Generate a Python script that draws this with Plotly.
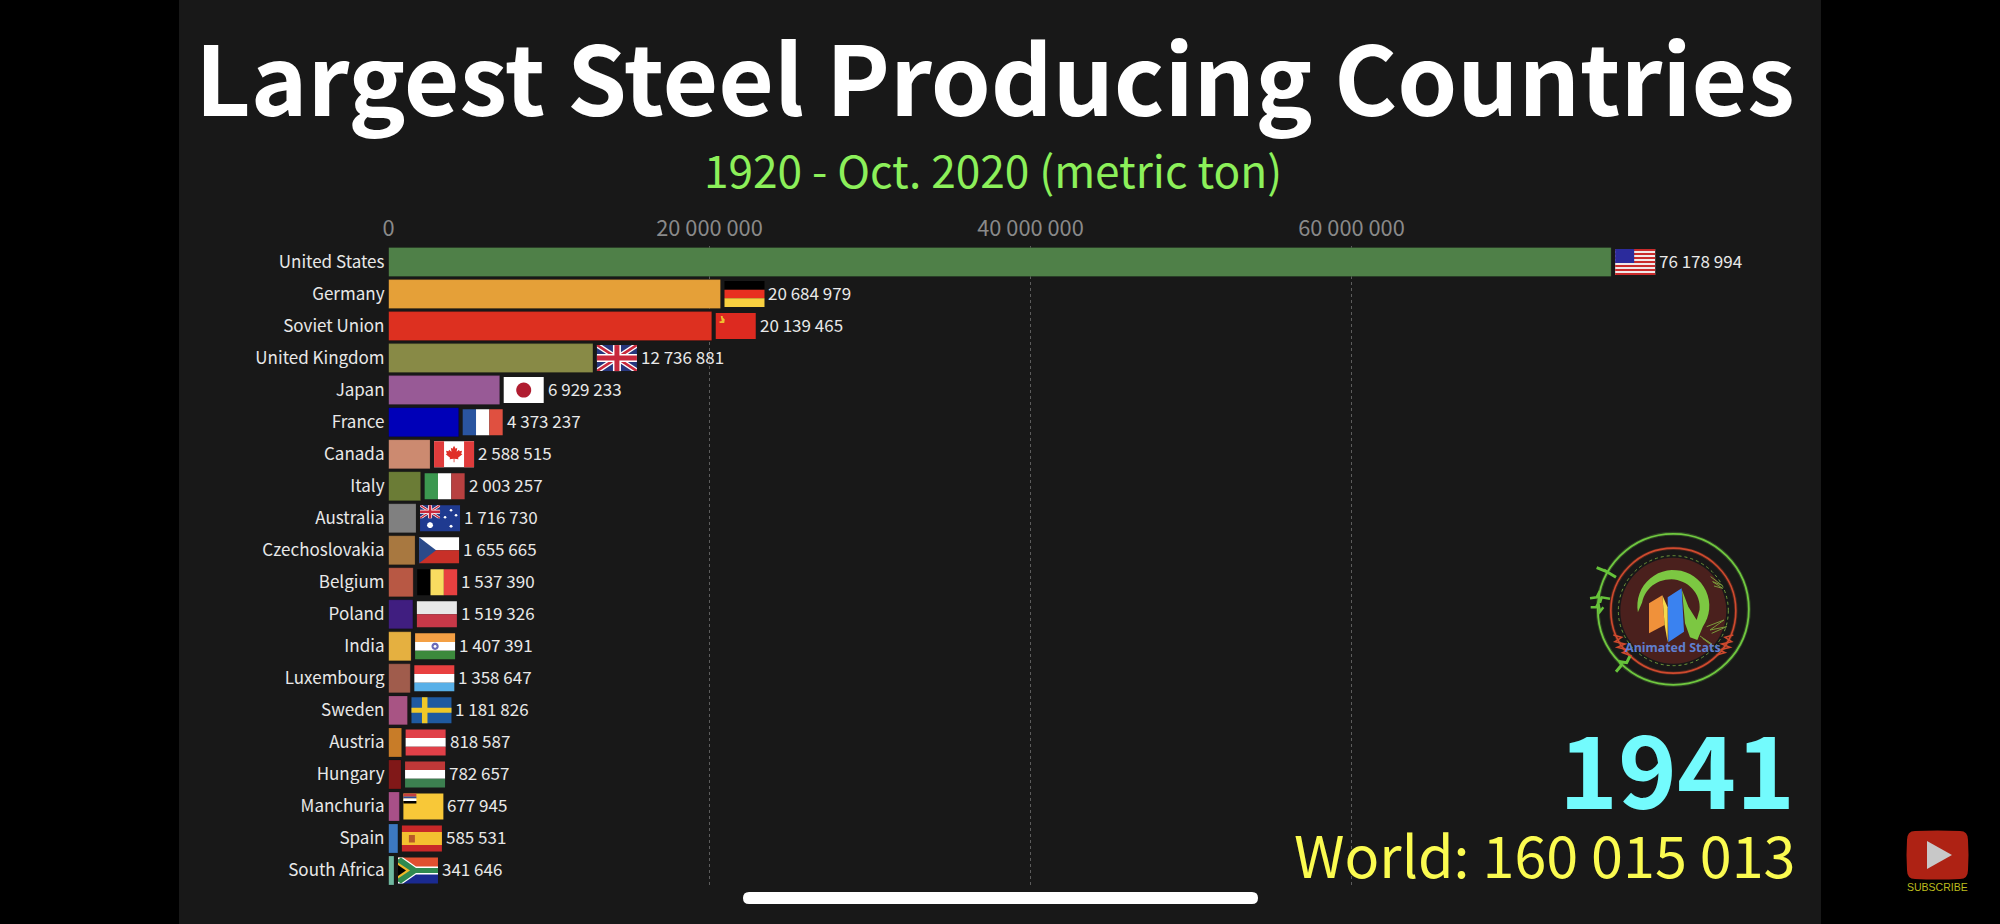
import math
import plotly.graph_objects as go

W, H = 2000, 924
FONT = "Noto Sans CJK JP"

countries = ["United States", "Germany", "Soviet Union", "United Kingdom", "Japan", "France", "Canada",
             "Italy", "Australia", "Czechoslovakia", "Belgium", "Poland", "India", "Luxembourg",
             "Sweden", "Austria", "Hungary", "Manchuria", "Spain", "South Africa"]
values = [76178994, 20684979, 20139465, 12736881, 6929233, 4373237, 2588515, 2003257, 1716730, 1655665,
          1537390, 1519326, 1407391, 1358647, 1181826, 818587, 782657, 677945, 585531, 341646]
bar_colors = ["#4f8048", "#e5a038", "#dd3020", "#888a46", "#985a96", "#0000b8", "#cc8a70", "#6b7c36",
              "#808080", "#a87840", "#b85844", "#401e80", "#e5b040", "#a05c4c", "#a85484", "#c87c28",
              "#801818", "#a85088", "#3c78c0", "#70b8a0"]
tick_values = [0, 20000000, 40000000, 60000000]
title_text = "Largest Steel Producing Countries"
subtitle_text = "1920 - Oct. 2020 (metric ton)"
year_text = "1941"
world_text = "World: 160 015 013"


def poly(pts):
    return "M" + " L".join(f"{x:.2f},{y:.2f}" for x, y in pts) + " Z"


def rect(x0, y0, x1, y1):
    return [(x0, y0), (x1, y0), (x1, y1), (x0, y1)]


def circle(cx, cy, r, n=28):
    return [(cx + r * math.cos(2 * math.pi * i / n), cy + r * math.sin(2 * math.pi * i / n)) for i in range(n)]


def hbands(cols):
    n = len(cols)
    return [(c, rect(0, 26 * i / n, 40, 26 * (i + 1) / n)) for i, c in enumerate(cols)]


def vbands(cols):
    n = len(cols)
    return [(c, rect(40 * i / n, 0, 40 * (i + 1) / n, 26)) for i, c in enumerate(cols)]


def union_jack(w, h):
    sx, sy = w / 40, h / 26
    def s(pts):
        return [(x * sx, y * sy) for x, y in pts]
    return [
        ("#27367c", s(rect(0, 0, 40, 26))),
        ("#ffffff", s([(0, 0), (5, 0), (40, 23), (40, 26), (35, 26), (0, 3)])),
        ("#ffffff", s([(40, 0), (35, 0), (0, 23), (0, 26), (5, 26), (40, 3)])),
        ("#c8283c", s([(0, 0), (2.5, 0), (40, 24.5), (40, 26), (37.5, 26), (0, 1.5)])),
        ("#c8283c", s([(40, 0), (37.5, 0), (0, 24.5), (0, 26), (2.5, 26), (40, 1.5)])),
        ("#ffffff", s(rect(16, 0, 24, 26))),
        ("#ffffff", s(rect(0, 9, 40, 17))),
        ("#c8283c", s(rect(17.5, 0, 22.5, 26))),
        ("#c8283c", s(rect(0, 10.5, 40, 15.5))),
    ]


us = [("#f0e8e8", rect(0, 0, 40, 26))] + [("#c92a2a", rect(0, 26 * i / 13, 40, 26 * (i + 1) / 13)) for i in range(0, 13, 2)]
us.append(("#2b2b9c", rect(0, 0, 19, 14)))

maple = [(20, 4.5), (21.6, 7.5), (23.2, 6.7), (22.6, 10.5), (25, 8.5), (25.5, 10), (28, 9.7), (27.2, 12.5), (28.3, 13.2),
         (24, 16.7), (24.4, 18.2), (20.4, 17.7), (20.4, 21), (19.6, 21), (19.6, 17.7), (15.6, 18.2), (16, 16.7),
         (11.7, 13.2), (12.8, 12.5), (12, 9.7), (14.5, 10), (15, 8.5), (17.4, 10.5), (16.8, 6.7), (18.4, 7.5)]

flags = {
    "United States": us,
    "Germany": hbands(["#000000", "#e83020", "#f8d040"]),
    "Soviet Union": [("#dd2a20", rect(0, 0, 40, 26)),
                     ("#f0c030", [(5, 3), (7, 3), (7, 4.5), (9, 6.5), (8.5, 10), (4, 10), (3.5, 8.5), (6, 8)])],
    "United Kingdom": union_jack(40, 26),
    "Japan": [("#ffffff", rect(0, 0, 40, 26)), ("#b01c30", circle(20, 13, 7.5))],
    "France": vbands(["#2a55a0", "#ffffff", "#e05040"]),
    "Canada": [("#ffffff", rect(0, 0, 40, 26)), ("#e03c3c", rect(0, 0, 10, 26)), ("#e03c3c", rect(30, 0, 40, 26)), ("#e03028", maple)],
    "Italy": vbands(["#3c9850", "#ffffff", "#b84040"]),
    "Australia": [("#1f3a90", rect(0, 0, 40, 26))] + union_jack(20, 13) + [
        ("#ffffff", circle(10, 20, 3, 10)), ("#ffffff", circle(31, 5, 1.3, 8)), ("#ffffff", circle(25, 12, 1.3, 8)),
        ("#ffffff", circle(36, 10, 1.3, 8)), ("#ffffff", circle(31, 21, 1.5, 8))],
    "Czechoslovakia": [("#ffffff", rect(0, 0, 40, 13)), ("#c83028", rect(0, 13, 40, 26)), ("#2a4a8a", [(0, 0), (17, 13), (0, 26)])],
    "Belgium": vbands(["#000000", "#f8dc60", "#e84040"]),
    "Poland": hbands(["#e8e8e8", "#c83848"]),
    "India": hbands(["#f4a044", "#ffffff", "#3c8a3c"]) + [("#6a6ab8", circle(20, 13, 3.6)), ("#ffffff", circle(20, 13, 1.4, 10))],
    "Luxembourg": hbands(["#e84040", "#ffffff", "#58b0e8"]),
    "Sweden": [("#1f5aa0", rect(0, 0, 40, 26)), ("#f0c828", rect(10.5, 0, 16, 26)), ("#f0c828", rect(0, 10.5, 40, 15.5))],
    "Austria": hbands(["#e04048", "#ffffff", "#e04048"]),
    "Hungary": hbands(["#c03838", "#ffffff", "#3c8050"]),
    "Manchuria": [("#f8c838", rect(0, 0, 40, 26)), ("#c84040", rect(0, 0, 13, 3)), ("#304a9a", rect(0, 3, 13, 5)),
                  ("#ffffff", rect(0, 5, 13, 7.5)), ("#000000", rect(0, 7.5, 13, 10))],
    "Spain": [("#c82828", rect(0, 0, 40, 26)), ("#f4c030", rect(0, 6.5, 40, 19.5)), ("#b85a28", rect(7, 9.5, 13, 17))],
    "South Africa": [("#e05030", rect(0, 0, 40, 13)), ("#1a2a90", rect(0, 13, 40, 26)),
                     ("#ffffff", [(0, 0), (5, 0), (18, 9), (40, 9), (40, 17), (18, 17), (5, 26), (0, 26)]),
                     ("#2f8a50", [(0, 2), (3, 0), (18, 10.5), (40, 10.5), (40, 15.5), (18, 15.5), (3, 26), (0, 24)]),
                     ("#f0b828", [(0, 5), (12, 13), (0, 21)]),
                     ("#000000", [(0, 7.5), (8, 13), (0, 18.5)])],
}

# pixel geometry of the frame
PX0, PX20 = 388.5, 709.5
X_MAX = 88000000
PLOT_TOP, PLOT_BOTTOM = 246, 887
dom_x = [PX0 / W, (PX0 + X_MAX / 20000000 * (PX20 - PX0)) / W]
dom_y = [1 - PLOT_BOTTOM / H, 1 - PLOT_TOP / H]

fig = go.Figure(go.Bar(
    x=values, y=countries, orientation="h",
    marker=dict(color=bar_colors, line=dict(color="rgba(0,0,0,0.18)", width=1)),
    width=0.905, hoverinfo="skip"))


def px(x):
    return x / W


def py(y):
    return 1 - y / H


def page_path(pts, close=True):
    return "M" + " L".join(f"{px(x):.5f},{py(y):.5f}" for x, y in pts) + (" Z" if close else "")


shapes = [dict(type="rect", xref="paper", yref="paper", x0=px(179), x1=px(1821), y0=0, y1=1,
               fillcolor="#181818", line_width=0, layer="below")]

# flags, anchored at the bar tips through the axis scales
FLAG_GAP = 4
for name, val in zip(countries, values):
    for color, pts in flags[name]:
        local = [(FLAG_GAP + x, 13 - y) for x, y in pts]
        shapes.append(dict(type="path", xref="x", yref="y", xsizemode="pixel", ysizemode="pixel",
                           xanchor=val, yanchor=name, path=poly(local), fillcolor=color,
                           line_width=0, layer="above"))

annotations = []
for name, val in zip(countries, values):
    annotations.append(dict(x=val, y=name, xref="x", yref="y", xanchor="left", yanchor="middle", xshift=46, yshift=2,
                            showarrow=False, text=f"{val:,}".replace(",", " "),
                            font=dict(family=FONT, size=17, color="#e8e8e8")))

# logo (decorative, fixed page position)
LX, LY = 1580, 520


def L(x, y):
    return (LX + x / 3, LY + y / 3)


def ring(cx, cy, r, color, width, dash=None):
    a, b = L(cx, cy)
    d = dict(color=color, width=width)
    if dash:
        d["dash"] = dash
    return dict(type="circle", xref="paper", yref="paper", x0=px(a - r), x1=px(a + r), y0=py(b + r), y1=py(b - r),
                line=d, layer="above")


def logo_fill(pts, color):
    return dict(type="path", xref="paper", yref="paper", path=page_path([L(*p) for p in pts]), fillcolor=color,
                line_width=0, layer="above")


def logo_line(pts, color, width=1.2):
    return dict(type="path", xref="paper", yref="paper", path=page_path([L(*p) for p in pts], close=False),
                line=dict(color=color, width=width), layer="above")


def arc(cx, cy, rx, ry, a0, a1, n=30):
    return [(cx + rx * math.cos(math.radians(a0 + (a1 - a0) * i / n)),
             cy - ry * math.sin(math.radians(a0 + (a1 - a0) * i / n))) for i in range(n + 1)]


disk = ring(280, 272, 53, "rgba(0,0,0,0)", 0)
disk["fillcolor"] = "#4a201d"
shapes += [disk,
           ring(280, 268, 75.5, "rgba(110,200,70,0.25)", 4),
           ring(280, 268, 75.5, "#70c83f", 1.8),
           ring(280, 272, 62.5, "rgba(220,70,40,0.25)", 3.5),
           ring(280, 272, 62.5, "#cf4a2e", 1.6),
           ring(280, 272, 55, "#6f9a3a", 1, "dot")]
arch = (arc(280, 258, 108, 108, 190, -35) + [(352, 360), (330, 352), (315, 310), (306, 210), (325, 260), (350, 300)]
        + arc(272, 262, 87, 84, -5, 170))
shapes.append(logo_fill(arch, "#7cc742"))
shapes.append(logo_fill([(207, 250), (247, 226), (254, 315), (207, 340)], "#f0913a"))
shapes.append(logo_fill([(247, 226), (263, 262), (263, 367), (254, 315)], "#f6d84a"))
shapes.append(logo_fill([(263, 232), (305, 205), (312, 335), (265, 367)], "#3a82f0"))
shapes.append(logo_line([(50, 143), (80, 155), (72, 150), (108, 172)], "#66c23a", 3))
shapes.append(logo_line([(30, 235), (50, 232), (55, 222), (60, 248), (65, 232), (90, 236)], "#66c23a", 2.5))
shapes.append(logo_line([(32, 262), (48, 262), (55, 250), (60, 275), (70, 262)], "#66c23a", 2.5))
shapes.append(logo_line([(108, 455), (125, 435), (120, 425), (140, 428), (150, 408)], "#66c23a", 3))
shapes.append(logo_line([(100, 345), (125, 352), (105, 365), (135, 372), (112, 382), (145, 390), (128, 398), (155, 408)], "#cf4a2e", 1.6))
shapes.append(logo_line([(460, 345), (435, 352), (455, 365), (425, 372), (450, 382), (418, 390), (435, 398), (410, 405)], "#cf4a2e", 1.6))
shapes.append(logo_line([(392, 170), (425, 195), (398, 185), (428, 205), (402, 198)], "#7a9a3a", 1))
shapes.append(logo_line([(380, 320), (432, 300), (390, 330), (440, 320), (395, 340)], "#7a9a3a", 1))
shapes.append(logo_line([(360, 348), (395, 372), (368, 355), (400, 380)], "#7a9a3a", 1))
annotations.append(dict(x=px(L(280, 382)[0]), y=py(L(280, 382)[1]), xref="paper", yref="paper", showarrow=False,
                        xanchor="center", yanchor="middle", text="<b>Animated Stats</b>",
                        font=dict(family="Noto Sans", size=12.5, color="#5f7fcf")))

# home indicator pill
x0, x1, y0, y1 = 743, 1258, 892, 904
r = 6
shapes.append(dict(type="path", xref="paper", yref="paper", line_width=0, fillcolor="#ffffff", layer="above",
                   path=(f"M{px(x0+r)},{py(y0)} L{px(x1-r)},{py(y0)} Q{px(x1)},{py(y0)} {px(x1)},{py(y0+r)} "
                         f"Q{px(x1)},{py(y1)} {px(x1-r)},{py(y1)} L{px(x0+r)},{py(y1)} "
                         f"Q{px(x0)},{py(y1)} {px(x0)},{py(y0+r)} Q{px(x0)},{py(y0)} {px(x0+r)},{py(y0)} Z")))

# subscribe button
bx0, bx1, by0, by1 = 1907, 1968, 831, 879
shapes.append(dict(type="path", xref="paper", yref="paper", line_width=0, fillcolor="#ae2214", layer="above",
                   path=(f"M{px(bx0+8)},{py(by0)} Q{px((bx0+bx1)/2)},{py(by0-1)} {px(bx1-8)},{py(by0)} "
                         f"Q{px(bx1)},{py(by0)} {px(bx1)},{py(by0+9)} Q{px(bx1+1)},{py((by0+by1)/2)} {px(bx1)},{py(by1-9)} "
                         f"Q{px(bx1)},{py(by1)} {px(bx1-8)},{py(by1)} Q{px((bx0+bx1)/2)},{py(by1+1)} {px(bx0+8)},{py(by1)} "
                         f"Q{px(bx0)},{py(by1)} {px(bx0)},{py(by1-9)} Q{px(bx0-1)},{py((by0+by1)/2)} {px(bx0)},{py(by0+9)} "
                         f"Q{px(bx0)},{py(by0)} {px(bx0+8)},{py(by0)} Z")))
shapes.append(dict(type="path", xref="paper", yref="paper", line_width=0, fillcolor="#c8c8c8", layer="above",
                   path=page_path([(1927, 841), (1952, 855), (1927, 869)])))


def page_text(x, y, text, size, color, anchor="center", bold=False, family=FONT):
    annotations.append(dict(x=px(x), y=py(y), xref="paper", yref="paper", showarrow=False, xanchor=anchor,
                            yanchor="middle", text=f"<b>{text}</b>" if bold else text,
                            font=dict(family=family, size=size, color=color)))


page_text(993, 168.5, subtitle_text, 44.2, "#8cf05a")
page_text(1797, 765, year_text, 100, "#73fbfd", anchor="right", bold=True)
page_text(1797, 853, world_text, 57.5, "#fbfb50", anchor="right")
page_text(1937.5, 887, "SUBSCRIBE", 10.5, "#bcbc1e", family="Liberation Sans")

fig.update_layout(
    width=W, height=H, margin=dict(l=0, r=0, t=0, b=0), autosize=False,
    paper_bgcolor="#000000", plot_bgcolor="rgba(0,0,0,0)", showlegend=False,
    separators=". ", font=dict(family=FONT),
    title=dict(text=f"<b>{title_text}</b>", xref="paper", yref="paper", x=995 / W, xanchor="center",
               y=py(82), yanchor="middle", font=dict(family=FONT, size=96, color="#ffffff")),
    xaxis=dict(domain=dom_x, range=[0, X_MAX], side="top", tickmode="array", tickvals=tick_values, tickformat=",d",
               tickfont=dict(family=FONT, size=21.8, color="#8a8a8a"), showgrid=True, griddash="dot",
               gridcolor="#5c5c5c", gridwidth=1, zeroline=False, showline=False, ticks="", automargin=False,
               ticklabelstandoff=5),
    yaxis=dict(domain=dom_y, categoryorder="array", categoryarray=countries, autorange="reversed",
               tickfont=dict(family=FONT, size=17, color="#e8e8e8"), showgrid=False, zeroline=False,
               showline=False, ticks="", automargin=False, ticklabelstandoff=3),
    shapes=shapes, annotations=annotations)

fig.write_html("out.html", config=dict(displayModeBar=False), post_script="document.body.style.margin='0';")
